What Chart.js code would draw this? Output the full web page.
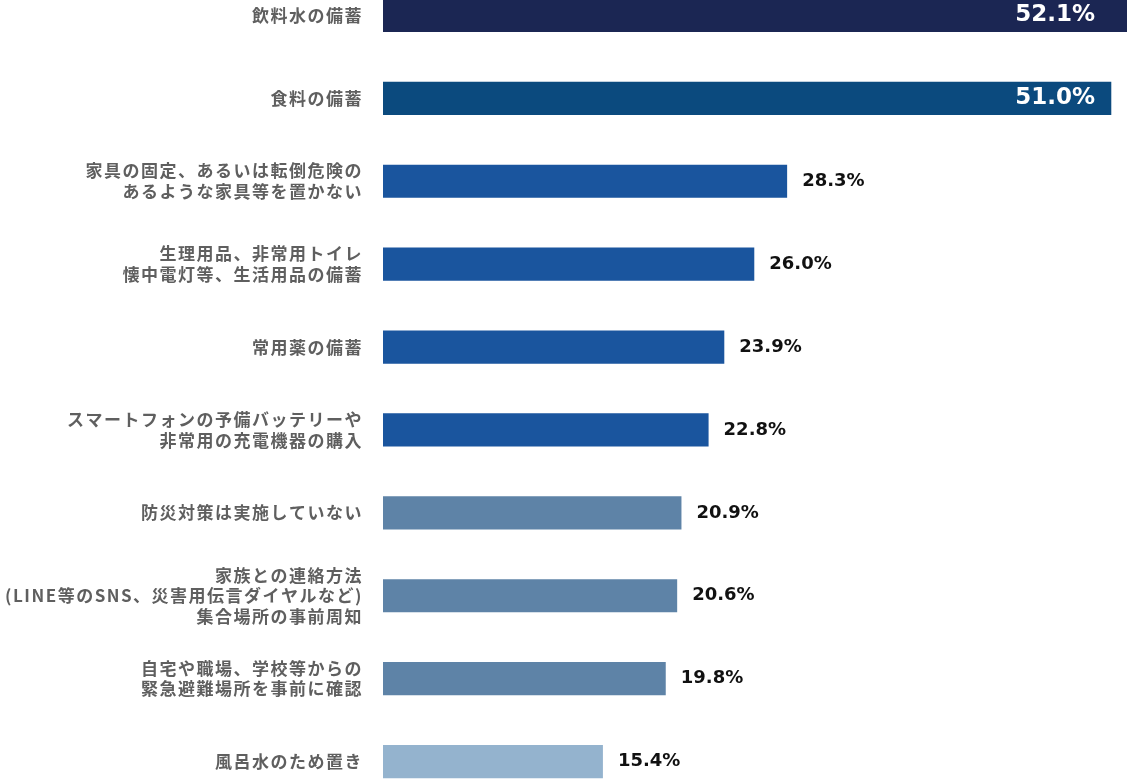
<!DOCTYPE html>
<html lang="ja">
<head>
<meta charset="utf-8">
<script src="https://cdn.jsdelivr.net/npm/chart.js@4.4.1/dist/chart.umd.min.js"></script>
<style>
  html, body { margin: 0; padding: 0; background: #ffffff; overflow: hidden; width: 1127px; height: 781px; }
  #wrap { position: absolute; left: 0; top: -26px; width: 1127px; height: 829px; }
</style>
</head>
<body>
<div id="wrap"><canvas id="c"></canvas></div>
<script>
const categories = [
  ['飲料水の備蓄'],
  ['食料の備蓄'],
  ['家具の固定、あるいは転倒危険の', 'あるような家具等を置かない'],
  ['生理用品、非常用トイレ', '懐中電灯等、生活用品の備蓄'],
  ['常用薬の備蓄'],
  ['スマートフォンの予備バッテリーや', '非常用の充電機器の購入'],
  ['防災対策は実施していない'],
  ['家族との連絡方法', '(LINE等のSNS、災害用伝言ダイヤルなど)', '集合場所の事前周知'],
  ['自宅や職場、学校等からの', '緊急避難場所を事前に確認'],
  ['風呂水のため置き']
];
const values = [52.1, 51.0, 28.3, 26.0, 23.9, 22.8, 20.9, 20.6, 19.8, 15.4];
const barColors = ['#1b2653', '#0b4a7e', '#1a559e', '#1a559e', '#1a559e', '#1a559e', '#5e83a7', '#5e83a7', '#5e83a7', '#94b3ce'];
const insideLabelCount = 2;

const labelSpacing = {
  id: 'labelSpacing',
  beforeDraw(chart) { chart.ctx.letterSpacing = '1.5px'; }
};

const valueLabels = {
  id: 'valueLabels',
  afterDatasetsDraw(chart) {
    const ctx = chart.ctx;
    const meta = chart.getDatasetMeta(0);
    meta.data.forEach((bar, i) => {
      const text = values[i].toFixed(1) + '%';
      ctx.save();
      ctx.letterSpacing = '0px';
      ctx.textBaseline = 'middle';
      if (i < insideLabelCount) {
        ctx.fillStyle = '#ffffff';
        ctx.font = 'bold 23px "DejaVu Sans"';
        ctx.textAlign = 'right';
        ctx.fillText(text, chart.chartArea.right - 32, bar.y);
      } else {
        ctx.fillStyle = '#111111';
        ctx.font = 'bold 18px "DejaVu Sans"';
        ctx.textAlign = 'left';
        ctx.fillText(text, bar.x + 15, bar.y);
      }
      ctx.restore();
    });
  }
};

new Chart(document.getElementById('c'), {
  type: 'bar',
  data: {
    labels: categories,
    datasets: [{
      data: values,
      backgroundColor: barColors,
      borderWidth: 0,
      barPercentage: 0.4,
      categoryPercentage: 1.0
    }]
  },
  options: {
    indexAxis: 'y',
    responsive: true,
    maintainAspectRatio: false,
    animation: false,
    layout: { padding: 0 },
    plugins: { legend: { display: false }, tooltip: { enabled: false } },
    scales: {
      x: { display: false, min: 0, max: Math.max(...values) },
      y: {
        grid: { display: false, drawTicks: false },
        border: { display: false },
        ticks: {
          color: '#5f5f5f',
          padding: 20,
          font: () => ({ family: '"Noto Sans CJK JP"', size: 17, weight: 'bold', lineHeight: '20.5px' })
        },
        afterFit(scale) {
          scale.width = 383;
          scale.paddingTop = 0;
          scale.paddingBottom = 0;
        }
      }
    }
  },
  plugins: [labelSpacing, valueLabels]
});
</script>
</body>
</html>
